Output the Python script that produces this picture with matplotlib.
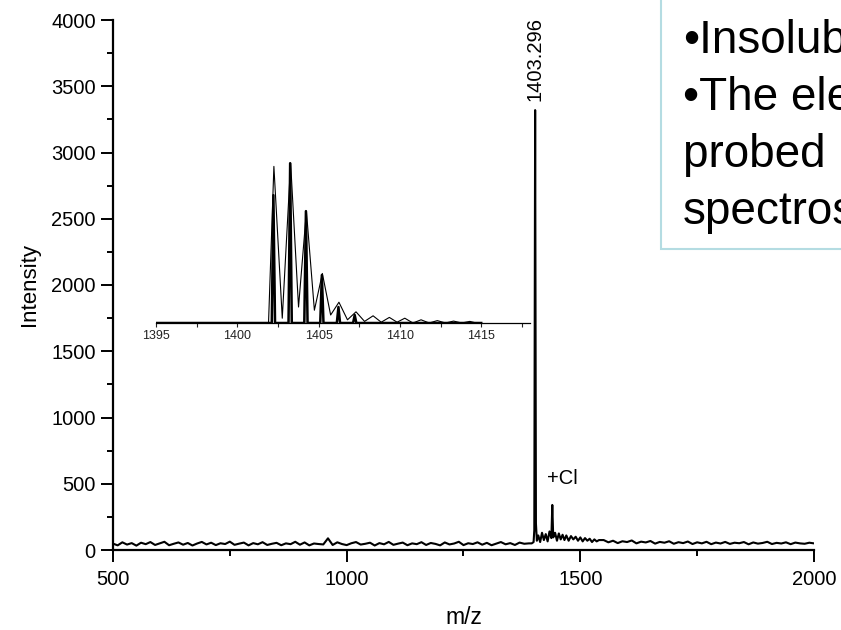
import matplotlib
matplotlib.use('Agg')
import matplotlib.pyplot as plt
from matplotlib.patches import Rectangle

plt.rcParams['font.family'] = ['Liberation Sans', 'DejaVu Sans']

# main spectrum: noisy baseline left of the cluster (every 10 m/z from 500)
base_left_mz = list(range(500, 1400, 10))
base_left_int = [48, 35, 58, 41, 52, 33, 55, 44, 60, 38,
                 50, 62, 36, 47, 57, 40, 53, 34, 49, 61,
                 42, 55, 37, 51, 45, 63, 39, 48, 56, 35,
                 52, 43, 59, 38, 47, 54, 36, 50, 44, 62,
                 40, 57, 35, 49, 45, 42, 88, 38, 58, 45,
                 37, 51, 60, 41, 47, 55, 34, 52, 43, 61,
                 39, 48, 56, 36, 50, 44, 59, 38, 53, 46,
                 35, 57, 42, 49, 62, 37, 51, 45, 58, 40,
                 54, 36, 48, 60, 43, 52, 38, 56, 47, 50]

# molecular ion and the +Cl region
peak_mz = [1396, 1400, 1401.5, 1403.3, 1405, 1407, 1410, 1414, 1418, 1422, 1426,
           1430, 1434, 1438, 1440, 1442, 1446, 1450, 1454, 1458, 1462, 1466,
           1470, 1475, 1480, 1485, 1490, 1495, 1500, 1505, 1510, 1515, 1520,
           1525, 1530, 1535, 1540]
peak_int = [50, 60, 150, 3320, 200, 70, 110, 60, 130, 75, 120, 65, 140, 90, 340,
            95, 130, 70, 125, 80, 115, 75, 110, 70, 105, 80, 100, 70, 95, 65,
            90, 70, 85, 60, 80, 65, 75]

# baseline right of the cluster (every 10 m/z from 1550)
base_right_mz = list(range(1550, 2001, 10))
base_right_int = [75, 58, 70, 52, 66, 60, 72, 50, 63, 57,
                  68, 48, 61, 55, 66, 47, 59, 52, 64, 45,
                  58, 50, 62, 44, 56, 49, 61, 46, 55, 51,
                  60, 43, 57, 48, 53, 62, 45, 54, 49, 58,
                  44, 56, 50, 47, 55, 50]

# inset: isotope pattern (relative intensity)
thin_peak_mz = [1402.25, 1403.28, 1404.25, 1405.23, 1406.25, 1407.3, 1408.35,
                1409.35, 1410.3, 1411.3, 1412.3, 1413.3, 1414.3]
thin_peak_h = [0.98, 1.0, 0.70, 0.31, 0.13, 0.07, 0.045, 0.035, 0.03, 0.02,
               0.015, 0.012, 0.01]
thin_valley_h = [0.03, 0.10, 0.08, 0.05, 0.02, 0.01, 0.005, 0.005, 0.0, 0.0,
                 0.0, 0.0]
thick_peak_mz = [1402.22, 1403.25, 1404.22, 1405.2, 1406.22, 1407.22]
thick_peak_h = [0.80, 1.0, 0.70, 0.30, 0.10, 0.05]

inset_ticks = [1395, 1400, 1405, 1410, 1415]

text_lines = ['\u2022Insolub', '\u2022The ele', 'probed ', 'spectros']

mz = base_left_mz + peak_mz + base_right_mz
intensity = base_left_int + peak_int + base_right_int

fig = plt.figure(figsize=(8.41, 6.30), dpi=100)
ax = fig.add_axes([113 / 841, 80 / 630, 701 / 841, 530 / 630])
ax.plot(mz, intensity, color='black', lw=1.5)
ax.set_xlim(500, 2000)
ax.set_ylim(0, 4000)
ax.spines[['top', 'right']].set_visible(False)
ax.spines[['left', 'bottom']].set_linewidth(1.6)
ax.set_xticks([500, 1000, 1500, 2000])
ax.set_xticks([750, 1250, 1750], minor=True)
ax.set_yticks(range(0, 4001, 500))
ax.set_yticks(range(250, 4000, 500), minor=True)
ax.tick_params(which='major', length=8.5, width=1.4, labelsize=14.5, pad=4)
ax.tick_params(which='minor', length=4.5, width=1.4)
ax.tick_params(axis='x', pad=6)
ax.set_xlabel('m/z', fontsize=16.5, labelpad=12)
ax.set_ylabel('Intensity', fontsize=16, labelpad=8)

ax.text(1403.3, 3390, '1403.296', rotation=90, ha='center', va='bottom', fontsize=14.5)
ax.text(1428, 536, '+Cl', ha='left', va='center', fontsize=14.5)

# inset
ins = fig.add_axes([156 / 841, 307 / 630, 374 / 841, 163 / 630])
ins.patch.set_visible(False)

thin_x, thin_y = [1395, thin_peak_mz[0] - 0.33], [0, 0]
for i, (m, h) in enumerate(zip(thin_peak_mz, thin_peak_h)):
    thin_x += [m]
    thin_y += [h]
    if i < len(thin_valley_h):
        thin_x.append((m + thin_peak_mz[i + 1]) / 2)
        thin_y.append(thin_valley_h[i])
thin_x += [thin_peak_mz[-1] + 0.4, 1415]
thin_y += [0, 0]
ins.plot(thin_x, thin_y, color='black', lw=0.8)

thick_x, thick_y = [1395], [0]
for m, h in zip(thick_peak_mz, thick_peak_h):
    thick_x += [m - 0.1, m, m + 0.1]
    thick_y += [0, h, 0]
thick_x.append(1415)
thick_y.append(0)
ins.plot(thick_x, thick_y, color='black', lw=1.8)

ins.set_xlim(1395, 1418)
ins.set_ylim(0, 1.02)
for s in ['top', 'right', 'left']:
    ins.spines[s].set_visible(False)
ins.spines['bottom'].set_linewidth(0.9)
ins.set_yticks([])
ins.set_xticks(inset_ticks)
ins.set_xticks([1397.5, 1402.5, 1407.5, 1412.5, 1417.5], minor=True)
ins.tick_params(which='both', length=3, width=0.8, labelsize=9, pad=2, colors='#222222')

# text box at the top right
fig.add_artist(Rectangle((661 / 841, (630 - 249) / 630), 0.5, 0.5, transform=fig.transFigure,
                         facecolor='white', edgecolor='#b4dce2', lw=1.5))
for line, base in zip(text_lines, [53, 110, 167, 224]):
    fig.text(683 / 841, 1 - base / 630, line, fontsize=33, ha='left', va='baseline')

fig.savefig('out.png', dpi=100)
